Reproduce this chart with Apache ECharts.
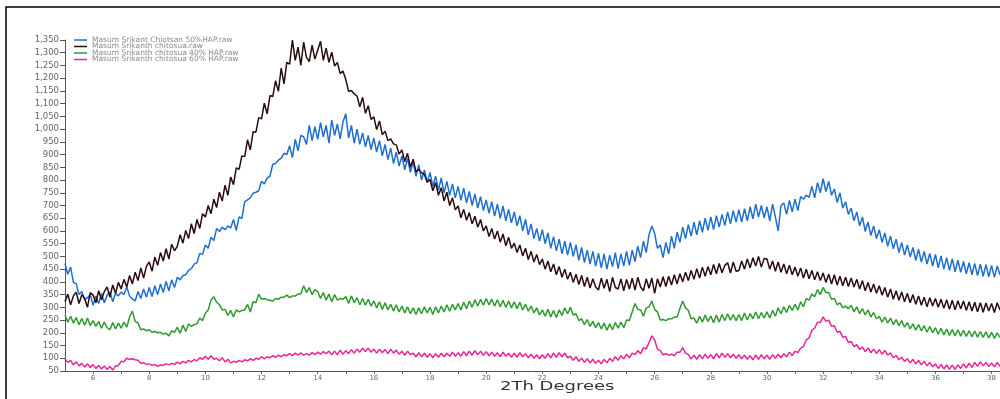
<!DOCTYPE html>
<html>
<head>
<meta charset="utf-8">
<script src="https://cdn.jsdelivr.net/npm/echarts@6/dist/echarts.min.js"></script>
<style>html,body{margin:0;padding:0;background:#fff;}#chart{width:1000px;height:399px;}</style>
</head>
<body>
<div id="chart"></div>
<script>
// 2Theta sampling grid of the scan (degrees)
const angleStart = 5.0;
const angleStep = 0.1;
const xTickLabels = [6, 8, 10, 12, 14, 16, 18, 20, 22, 24, 26, 28, 30, 32, 34, 36, 38];
const xTickMarks = [6,7,8,9,10,11,12,13,14,15,16,17,18,19,20,21,22,23,24,25,26,27,28,29,30,31,32,33,34,35,36,37,38];
const seriesNames = [
  'Masum Srikant Chiotsan 50%HAP.raw',
  'Masum Srikanth chitosua.raw',
  'Masum Srikanth chitosua 40% HAP.raw',
  'Masum Srikanth chitosua 60% HAP.raw'
];

// Masum Srikant Chiotsan 50%HAP.raw (blue)
const hap50 = [
472,430,458,398,392,350,362,330,338,350,
308,345,315,355,318,348,360,322,355,345,
360,350,380,345,332,325,362,335,372,340,
378,342,385,350,392,358,402,365,408,378,
418,408,425,428,445,452,470,475,512,508,
545,532,575,562,610,598,615,605,620,612,
645,602,655,648,715,722,730,748,752,758,
795,785,808,815,862,865,878,885,905,900,
935,888,960,915,975,970,940,1015,955,1010,
960,1025,970,1015,945,1035,975,1020,962,1028,
1060,965,1015,945,1000,940,985,930,975,920,
965,910,955,895,940,880,925,865,910,855,
895,840,885,830,872,815,860,800,840,790,
830,775,815,760,808,750,795,740,785,730,
775,720,768,710,755,700,745,690,735,680,
722,670,715,658,705,650,698,640,685,632,
675,620,660,600,645,585,628,570,610,560,
605,550,592,532,578,522,568,510,560,505,
555,500,545,485,535,476,525,470,520,462,
512,455,510,450,505,460,515,452,510,462,
520,466,525,480,540,495,560,515,585,620,
590,532,545,495,555,510,580,532,595,555,
615,570,625,580,635,585,640,595,650,602,
655,605,660,615,665,622,675,628,680,635,
684,635,688,640,695,648,705,655,700,652,
695,640,705,655,600,700,710,665,720,675,
725,680,735,725,740,732,775,730,790,750,
805,755,795,740,765,712,750,690,715,665,
690,640,675,620,655,598,635,582,620,570,
605,555,592,540,580,530,568,515,555,505,
545,498,535,485,528,478,520,470,512,462,
508,455,502,450,495,445,490,440,485,438,
480,432,475,428,472,425,470,422,468,420,
465,418,462,428
];

// Masum Srikanth chitosua.raw (black)
const chitosan = [
322,352,310,345,360,315,350,335,300,358,
348,318,365,330,362,380,340,388,355,398,
372,410,380,425,392,438,405,455,415,462,
478,442,498,465,515,482,530,490,548,522,
540,585,552,602,570,628,590,645,610,668,
655,700,668,725,692,752,718,780,740,812,
782,848,842,895,892,958,918,990,988,1045,
1040,1102,1060,1132,1128,1190,1148,1240,1178,1262,
1255,1350,1270,1322,1250,1342,1282,1265,1330,1275,
1310,1345,1270,1318,1262,1302,1248,1262,1218,1228,
1195,1148,1152,1138,1130,1088,1125,1062,1092,1038,
1048,998,1032,978,992,955,962,942,938,902,
918,872,905,850,882,832,842,828,822,792,
802,758,790,740,770,718,752,700,730,683,
698,652,685,642,672,628,658,615,645,600,
620,578,610,568,600,556,588,542,575,532,
552,515,545,502,532,488,520,478,508,468,
490,450,482,440,470,428,460,418,450,410,
438,398,430,390,425,382,418,376,412,380,
368,415,375,410,362,418,378,372,412,365,
410,372,415,368,418,380,365,412,375,415,
355,412,380,420,382,422,388,428,392,432,
400,438,405,445,410,452,415,458,422,460,
428,468,432,472,436,465,475,435,478,442,
445,482,450,490,455,495,462,500,458,492,
490,450,482,442,478,438,470,432,465,428,
458,422,455,415,450,412,445,408,440,405,
435,398,430,392,428,388,422,385,418,382,
415,380,410,372,405,365,398,360,392,355,
385,348,378,340,372,332,365,328,360,322,
355,318,350,312,345,308,340,302,338,305,
335,300,332,296,330,292,328,290,326,294,
325,288,322,286,320,283,318,281,317,286,
315,280,318,290
];

// Masum Srikanth chitosua 40% HAP.raw (green)
const hap40 = [
270,242,265,238,260,232,256,230,258,228,
248,225,245,218,242,220,212,240,215,238,
218,242,222,262,285,245,238,212,215,208,
212,202,205,200,202,195,198,188,208,202,
222,198,230,205,235,225,232,235,258,248,
278,290,328,342,320,310,290,292,268,288,
262,290,282,288,290,312,282,322,318,352,
332,335,330,328,325,335,332,340,340,348,
338,345,345,352,352,385,358,378,350,370,
362,335,358,328,352,322,350,328,335,332,
342,315,345,318,338,310,335,308,332,305,
325,298,322,292,318,290,312,285,310,282,
305,278,302,275,298,272,298,275,302,278,
300,272,302,278,305,282,310,285,312,290,
315,290,320,295,325,300,330,305,332,308,
335,310,332,305,330,302,328,300,325,298,
322,295,320,290,312,285,305,278,298,270,
290,265,292,262,288,260,290,268,298,275,
300,270,275,248,255,232,252,225,245,220,
240,215,238,210,235,212,240,218,242,220,
250,248,282,315,292,290,265,298,302,325,
292,282,250,252,248,255,255,262,262,295,
325,298,288,255,258,238,265,242,270,245,
266,240,270,242,272,248,275,250,272,248,
272,248,278,250,276,255,282,255,280,258,
282,258,288,265,298,275,302,280,308,288,
312,290,322,302,335,328,352,342,370,350,
378,358,358,332,335,310,318,298,305,295,
308,282,302,275,295,270,290,262,280,255,
265,242,262,238,258,232,252,228,248,222,
240,215,235,210,232,208,228,202,225,200,
220,195,218,192,215,190,213,188,212,187,
210,186,208,185,207,183,205,182,204,180,
202,178,200,182
];

// Masum Srikanth chitosua 60% HAP.raw (pink)
const hap60 = [
98,84,92,74,86,70,80,66,78,64,
75,60,72,58,70,56,68,54,70,72,
88,86,100,95,98,94,92,80,82,76,
78,72,76,68,74,72,78,74,80,76,
85,78,88,82,92,86,95,90,102,96,
108,96,110,96,100,90,102,86,96,82,
88,84,92,86,94,90,98,92,100,96,
106,98,106,102,110,104,112,106,114,110,
118,110,120,112,121,112,118,112,122,114,
124,116,126,118,128,114,128,114,132,116,
130,118,134,120,136,124,140,126,140,124,
136,120,136,122,134,118,136,120,132,116,
128,112,128,114,120,106,122,106,120,104,
118,102,118,104,120,106,120,108,124,108,
122,108,126,110,128,112,130,114,128,112,
126,110,124,108,122,106,124,108,120,104,
120,104,122,106,118,102,116,100,114,98,
114,100,118,102,120,104,122,106,120,102,
108,92,106,88,100,84,98,82,96,80,
92,78,96,82,100,88,106,92,110,98,
116,102,120,114,130,118,142,136,162,188,
172,136,130,114,118,112,116,110,124,124,
142,120,115,98,112,96,114,98,116,100,
114,98,118,102,120,104,118,102,116,100,
114,98,112,96,110,94,112,96,114,98,
112,96,114,100,116,102,118,106,124,110,
128,122,140,146,172,180,210,218,242,240,
262,245,250,226,228,202,206,182,186,162,
166,146,154,134,144,126,141,122,136,119,
134,116,131,112,121,102,111,94,104,88,
98,82,96,78,92,74,88,70,84,66,
78,60,76,58,74,57,73,56,74,60,
78,62,81,64,84,68,86,70,84,68,
82,66,84,68
];

function pair(arr) {
  return arr.map((v, i) => [+(angleStart + i * angleStep).toFixed(1), v]);
}

const colors = ['#1f6fd0', '#2a0d0e', '#2e9a30', '#ea2596'];
const chart = echarts.init(document.getElementById('chart'), null, {renderer: 'canvas'});

const mk = (name, data, color, z) => ({
  name: name, type: 'line', data: pair(data), symbol: 'none', showSymbol: false,
  lineStyle: {color: color, width: 1.5}, itemStyle: {color: color}, z: z, animation: false
});

const FONT = 'DejaVu Sans';

chart.setOption({
  animation: false,
  backgroundColor: '#fff',
  grid: {left: 65, right: 0, top: 40, bottom: 28, containLabel: false},
  legend: {
    data: seriesNames, orient: 'vertical', left: 69, top: 31,
    itemWidth: 13, itemHeight: 1.5, itemGap: -1.5,
    textStyle: {fontSize: 7.5, color: '#8a8a8a', lineHeight: 6, fontFamily: FONT},
    icon: 'rect'
  },
  xAxis: {
    type: 'value', min: 5, max: 38.3,
    axisLine: {show: true, lineStyle: {color: '#555', width: 1}},
    axisTick: {show: true, customValues: xTickMarks, length: 3, lineStyle: {color: '#666'}},
    axisLabel: {customValues: xTickLabels, fontSize: 7, color: '#666', margin: 4, fontFamily: FONT},
    splitLine: {show: false}
  },
  yAxis: {
    type: 'value', min: 50, max: 1350, interval: 50,
    axisLine: {show: true, lineStyle: {color: '#555', width: 1}},
    axisTick: {show: true, length: 5, lineStyle: {color: '#555'}},
    axisLabel: {fontSize: 8.5, color: '#666', margin: 6, fontFamily: FONT,
      formatter: v => v.toLocaleString('en-US')},
    splitLine: {show: false}
  },
  graphic: [
    {type: 'rect', shape: {x: 6, y: 7, width: 1000, height: 400},
     style: {fill: 'none', stroke: '#000', lineWidth: 1.5}, silent: true},
    {type: 'text', x: 500, y: 381, scaleX: 1.5,
     style: {text: '2Th Degrees', fontSize: 12, fill: '#333', fontFamily: FONT,
             textVerticalAlign: 'top', verticalAlign: 'top'}}
  ],
  series: [
    mk(seriesNames[0], hap50, colors[0], 2),
    mk(seriesNames[1], chitosan, colors[1], 3),
    mk(seriesNames[2], hap40, colors[2], 2),
    mk(seriesNames[3], hap60, colors[3], 2)
  ]
});
</script>
</body>
</html>
